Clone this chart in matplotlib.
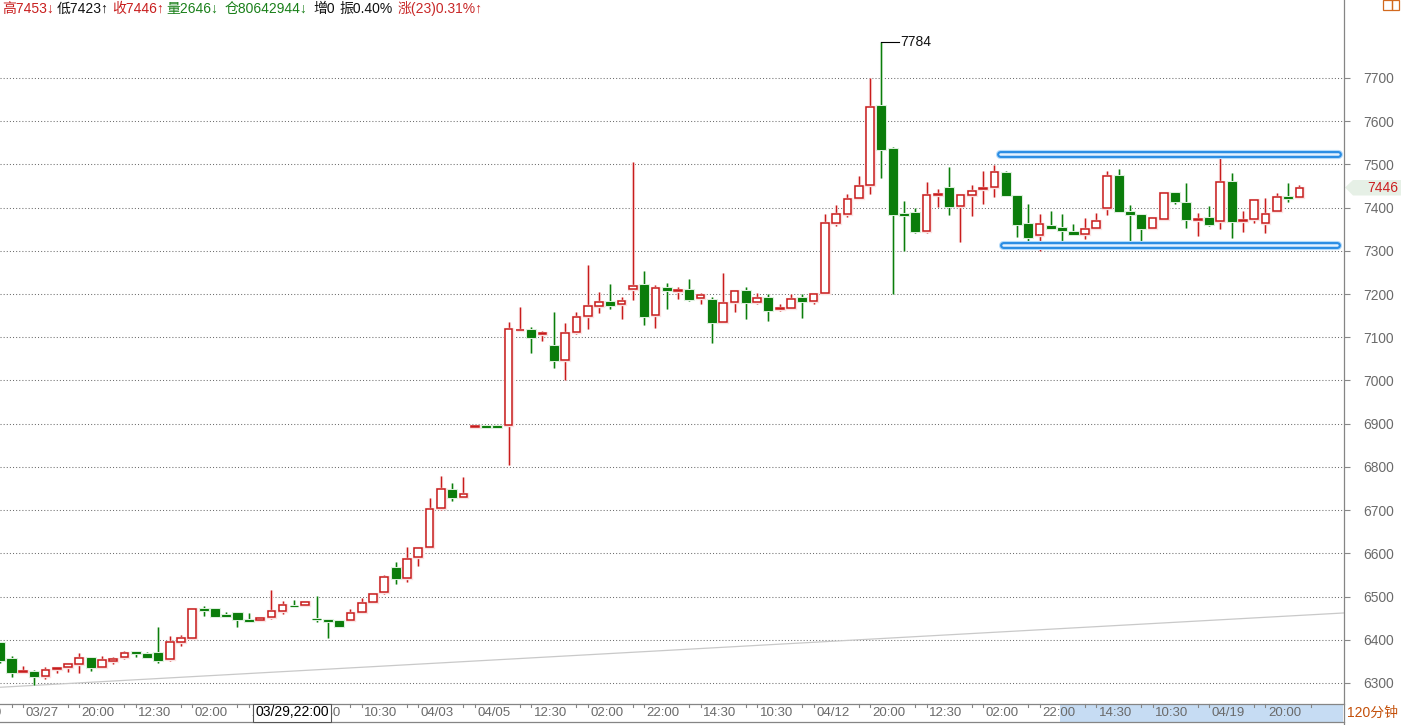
import matplotlib
matplotlib.use('Agg')
import matplotlib.pyplot as plt
import matplotlib.transforms as mtransforms
import matplotlib.patheffects as pe
from matplotlib.patches import Rectangle, Polygon
from matplotlib.lines import Line2D

plt.rcParams['font.family'] = ['Liberation Sans', 'Noto Sans CJK SC', 'DejaVu Sans']

# ---------------- data (120-minute bars) ----------------
opens = [6393, 6355, 6325, 6325, 6317, 6333, 6337, 6344, 6358, 6338,
         6350, 6359, 6371, 6367, 6370, 6356, 6394, 6405, 6471, 6471,
         6457, 6461, 6446, 6445, 6452, 6467, 6478, 6481, 6449, 6446,
         6443, 6446, 6465, 6487, 6510, 6566, 6542, 6591, 6614, 6704,
         6747, 6731, 6893, 6894, 6894, 6896, 7116, 7117, 7108, 7080,
         7048, 7113, 7149, 7172, 7182, 7176, 7211, 7221, 7151, 7214,
         7208, 7209, 7192, 7186, 7136, 7182, 7206, 7182, 7190, 7165,
         7167, 7190, 7183, 7202, 7364, 7385, 7422, 7452, 7635, 7536,
         7386, 7388, 7345, 7430, 7445, 7403, 7429, 7443, 7447, 7479,
         7427, 7362, 7336, 7358, 7353, 7344, 7338, 7352, 7399, 7473,
         7390, 7382, 7354, 7373, 7435, 7411, 7372, 7375, 7368, 7459,
         7370, 7373, 7364, 7392, 7424, 7425]
highs = [6395, 6362, 6339, 6331, 6336, 6336, 6344, 6370, 6360, 6362,
         6361, 6374, 6375, 6372, 6430, 6408, 6411, 6473, 6478, 6473,
         6464, 6465, 6461, 6453, 6515, 6489, 6492, 6490, 6501, 6448,
         6445, 6471, 6496, 6507, 6549, 6580, 6615, 6612, 6728, 6779,
         6763, 6777, 6894, 6894, 6894, 7135, 7171, 7123, 7114, 7158,
         7133, 7158, 7267, 7204, 7223, 7194, 7506, 7253, 7221, 7226,
         7216, 7235, 7202, 7193, 7249, 7209, 7216, 7203, 7199, 7178,
         7201, 7200, 7202, 7385, 7406, 7431, 7473, 7699, 7784, 7540,
         7415, 7400, 7459, 7443, 7495, 7432, 7452, 7485, 7499, 7484,
         7429, 7408, 7385, 7392, 7385, 7362, 7376, 7388, 7485, 7489,
         7406, 7385, 7379, 7435, 7435, 7457, 7388, 7403, 7533, 7480,
         7392, 7419, 7422, 7435, 7457, 7453]
lows = [6346, 6314, 6325, 6295, 6308, 6324, 6326, 6324, 6327, 6337,
        6343, 6355, 6359, 6357, 6346, 6350, 6386, 6405, 6456, 6452,
        6453, 6430, 6440, 6445, 6447, 6460, 6475, 6477, 6440, 6404,
        6429, 6444, 6463, 6487, 6507, 6530, 6534, 6571, 6614, 6700,
        6721, 6731, 6893, 6893, 6893, 6804, 7116, 7064, 7092, 7030,
        7001, 7108, 7119, 7156, 7166, 7142, 7186, 7129, 7122, 7166,
        7189, 7184, 7178, 7087, 7134, 7158, 7143, 7178, 7138, 7160,
        7167, 7144, 7176, 7202, 7358, 7379, 7422, 7431, 7469, 7200,
        7300, 7342, 7342, 7402, 7383, 7321, 7381, 7409, 7424, 7428,
        7331, 7315, 7300, 7350, 7321, 7338, 7328, 7350, 7382, 7392,
        7321, 7313, 7352, 7373, 7409, 7354, 7335, 7358, 7351, 7330,
        7344, 7365, 7342, 7392, 7412, 7423]
closes = [6352, 6326, 6327, 6317, 6330, 6335, 6343, 6358, 6337, 6352,
          6356, 6369, 6369, 6359, 6352, 6394, 6403, 6471, 6469, 6456,
          6455, 6449, 6444, 6451, 6466, 6480, 6477, 6487, 6447, 6444,
          6431, 6463, 6484, 6507, 6545, 6544, 6588, 6612, 6702, 6748,
          6731, 6737, 6894, 6893, 6893, 7118, 7117, 7101, 7110, 7047,
          7111, 7146, 7172, 7181, 7175, 7185, 7219, 7150, 7213, 7209,
          7210, 7189, 7198, 7136, 7179, 7206, 7182, 7192, 7164, 7167,
          7188, 7183, 7200, 7364, 7385, 7419, 7449, 7634, 7536, 7386,
          7384, 7347, 7429, 7432, 7404, 7429, 7438, 7445, 7482, 7430,
          7362, 7333, 7361, 7354, 7348, 7338, 7350, 7369, 7473, 7392,
          7385, 7354, 7375, 7435, 7416, 7373, 7374, 7361, 7459, 7370,
          7372, 7417, 7385, 7424, 7422, 7446]

y_ticks = [6300, 6400, 6500, 6600, 6700, 6800, 6900, 7000,
           7100, 7200, 7300, 7400, 7500, 7600, 7700]
x_label_idx = [-3, 2, 7, 12, 17, 22, 27, 32, 37, 42, 47, 52, 57, 62, 67,
               72, 77, 82, 87, 92, 97, 102, 107, 112]
x_labels = ['10:30', '03/27', '20:00', '12:30', '02:00', '22:00', '14:30',
            '10:30', '04/03', '04/05', '12:30', '02:00', '22:00', '14:30',
            '10:30', '04/12', '20:00', '12:30', '02:00', '22:00', '14:30',
            '10:30', '04/19', '20:00']

header_texts = ['高7453↓', '低7423↑', '收7446↑', '量2646↓', '仓80642944↓',
                '增0', '振0.40%', '涨(23)0.31%↑']
header_colors = ['#c81e1e', '#111111', '#c81e1e', '#1a801a', '#1a801a',
                 '#111111', '#111111', '#c82828']

high_label = 7784
last_price = 7446
channel_top = 7523
channel_bottom = 7314
trend_start = 6290
trend_end = 6462
cursor_text = '03/29,22:00'
period_text = '120分钟'

# ---------------- layout ----------------
W, H = 1401, 725
AX_RIGHT = 1344
AX_BOTTOM = 703
fig = plt.figure(figsize=(W / 100, H / 100), dpi=100)
fig.patch.set_facecolor('white')


def fx(px):
    return px / W


def fy(py):
    return 1 - py / H


ax = fig.add_axes([0, fy(AX_BOTTOM), fx(AX_RIGHT), AX_BOTTOM / H])
ax.set_facecolor('white')
for s in ax.spines.values():
    s.set_visible(False)

ax.set_xlim(-0.02, 118.95)
ax.set_ylim(6253.6, 7880.5)

# grid
for v in y_ticks:
    ax.axhline(v, color='#6e6e6e', lw=0.75, ls=(0, (1, 2)), zorder=0)

ax.yaxis.tick_right()
ax.set_yticks(y_ticks)
ax.set_yticklabels([str(v) for v in y_ticks])
ax.tick_params(axis='y', direction='out', length=4, width=0.8, color='#888888',
               pad=9.5, labelsize=9.9, labelcolor='#6a6a6a')
ax.set_xticks([])

# trend line
ax.plot([-0.02, 118.95], [trend_start, trend_end], color='#c9c9c9', lw=0.9, zorder=1)

RED = '#c81c1c'
GREEN = '#0b7d0b'
glow_r = [pe.withStroke(linewidth=2.4, foreground='#fae2e2')]
glow_g = [pe.withStroke(linewidth=2.2, foreground='#dcefdc')]

for i, (o, h, l, c) in enumerate(zip(opens, highs, lows, closes)):
    up = c >= o
    col = RED if up else GREEN
    ln = Line2D([i, i], [l, h], color=col, lw=1.0, zorder=2,
                path_effects=glow_r if up else glow_g, solid_capstyle='butt')
    ax.add_line(ln)
    lo, hi = min(o, c), max(o, c)
    if up:
        r = Rectangle((i - 0.34, lo), 0.68, max(hi - lo, 0.6), facecolor='white',
                      edgecolor=RED, lw=1.1, zorder=3, path_effects=glow_r)
    else:
        r = Rectangle((i - 0.36, lo), 0.72, max(hi - lo, 0.6), facecolor=GREEN,
                      edgecolor=GREEN, lw=0.7, zorder=3, path_effects=glow_g)
    ax.add_patch(r)

# channel lines (blue capsules)
for (x0, x1, v) in [(88.5, 118.45, channel_top), (88.8, 118.3, channel_bottom)]:
    ax.plot([x0, x1], [v, v], color='#b5dbfa', lw=6.6, solid_capstyle='round', zorder=4)
    ax.plot([x0, x1], [v, v], color='#2a8de4', lw=5.0, solid_capstyle='round', zorder=5)
    ax.plot([x0, x1], [v, v], color='#e4f2ff', lw=1.8, solid_capstyle='round', zorder=6)

# high annotation
imax = highs.index(max(highs))
ax.plot([imax, imax + 1.55], [high_label, high_label], color='black', lw=0.8, zorder=5)
ax.text(imax + 1.7, high_label, str(high_label), ha='left', va='center',
        fontsize=10, color='#111111', zorder=6)

# ---------------- figure-level decorations ----------------
gray = '#858585'
fig.add_artist(Line2D([fx(AX_RIGHT), fx(AX_RIGHT)], [0, 1], color=gray, lw=0.9))
fig.add_artist(Line2D([0, fx(AX_RIGHT)], [fy(703.5), fy(703.5)], color=gray, lw=0.9))
fig.add_artist(Line2D([0, fx(AX_RIGHT)], [fy(722), fy(722)], color=gray, lw=0.9))

# highlighted range on time axis
fig.add_artist(Rectangle((fx(1060), fy(721.5)), fx(1343) - fx(1060), fy(704) - fy(721.5),
                         facecolor='#c6dcf3', edgecolor='none', zorder=0.5))

# time axis labels and ticks
tr = mtransforms.blended_transform_factory(ax.transData, fig.transFigure)
for idx, lab in zip(x_label_idx, x_labels):
    fig.add_artist(Line2D([idx, idx], [fy(704), fy(707)], color=gray, lw=0.8, transform=tr))
    off = mtransforms.offset_copy(tr, fig=fig, x=2.5, y=0, units='dots')
    fig.text(idx, fy(713), lab, transform=off, ha='left', va='center',
             fontsize=9.5, color='#6a6a6a', zorder=3)
for idx in x_label_idx:
    j = idx + 4
    fig.add_artist(Line2D([j, j], [fy(704), fy(707)], color=gray, lw=0.8, transform=tr))

# cursor time box (covers the labels beneath)
fig.add_artist(Rectangle((fx(253), fy(722)), fx(331) - fx(253), fy(703.5) - fy(722),
                         facecolor='white', edgecolor='#555555', lw=0.8, zorder=10))
fig.text(fx(292), fy(712.5), cursor_text, ha='center', va='center', fontsize=10,
         color='black', zorder=11)

fig.text(fx(1347), fy(713), period_text, ha='left', va='center', fontsize=10,
         color='#c4500a')

# last price marker
fig.add_artist(Polygon([(fx(1345), fy(187.5)), (fx(1353), fy(180)), (fx(1401), fy(180)),
                        (fx(1401), fy(195.5)), (fx(1353), fy(195.5))], closed=True,
                       facecolor='#e6f0e6', edgecolor='none'))
fig.text(fx(1367), fy(188), str(last_price), ha='left', va='center', fontsize=10,
         color='#cc2020')

# top-right icon
fig.add_artist(Rectangle((fx(1383), fy(10)), fx(9), fy(0) - fy(10), facecolor='none',
                         edgecolor='#d2691e', lw=0.9))
fig.add_artist(Rectangle((fx(1392), fy(10)), fx(7), fy(0) - fy(10), facecolor='none',
                         edgecolor='#d2691e', lw=0.9))

# header
header_x = [2, 57, 112, 166, 225, 313, 339, 398]
for xpos, t, c in zip(header_x, header_texts, header_colors):
    fig.text(fx(xpos), fy(9), t, ha='left', va='center', fontsize=10, color=c)

fig.savefig('out.png', dpi=100, facecolor='white')
